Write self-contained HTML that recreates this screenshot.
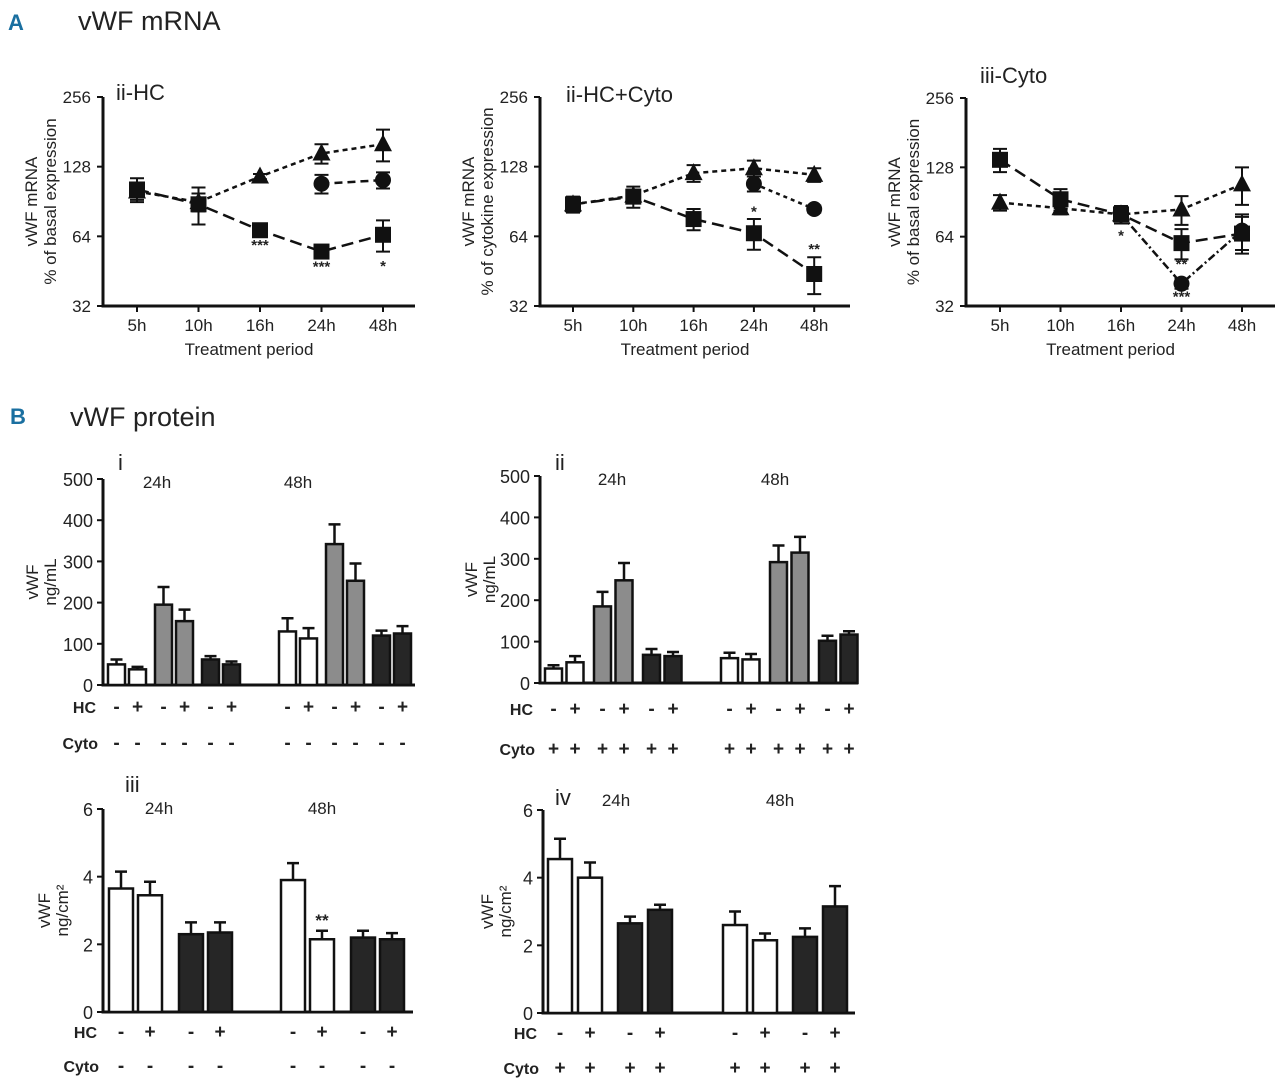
<!DOCTYPE html>
<html><head><meta charset="utf-8">
<style>
body{margin:0;background:#fff;}
svg{display:block;font-family:"Liberation Sans Narrow","Liberation Sans",sans-serif;}
</style></head>
<body>
<svg id="fig" width="1280" height="1087" viewBox="0 0 1280 1087">
<text x="8" y="30" font-size="22" font-weight="bold" fill="#1a6fa0">A</text>
<text x="78" y="30" font-size="27" fill="#222">vWF mRNA</text>
<text x="10" y="424" font-size="22" font-weight="bold" fill="#1a6fa0">B</text>
<text x="70" y="426" font-size="27" fill="#222">vWF protein</text>
</svg>
<script>
// ---------- Panel A data ----------
const timeCats = ['5h','10h','16h','24h','48h'];
const logTicks = [32,64,128,256];
// A-i (HC)
const aiSquare = [102,88,68,55,65];
const aiSquareErr = [12,16,3,3,10];
const aiTriangle = [100,90,116,146,160];
const aiTriangleErr = [8,8,3,14,25];
const aiCircle = [null,null,null,108,112];
const aiCircleErr = [0,0,0,10,9];
const aiStars = ['','','***','***','*'];
// A-ii (HC+Cyto)
const aiiSquare = [88,95,76,66,44];
const aiiSquareErr = [7,10,8,10,8];
const aiiTriangle = [88,96,120,126,118];
const aiiTriangleErr = [5,6,10,10,8];
const aiiCircle = [null,null,null,108,84];
const aiiCircleErr = [0,0,0,8,3];
const aiiStars = ['','','','*','**'];
// A-iii (Cyto)
const aiiiSquare = [138,93,80,60,66];
const aiiiSquareErr = [16,10,7,9,12];
const aiiiTriangle = [90,85,80,84,108];
const aiiiTriangleErr = [7,5,4,12,20];
const aiiiCircle = [null,null,80,40,68];
const aiiiCircleErr = [0,0,0,2,12];
const aiiiStars = ['','','*','**',''];
const aiiiCircleStars = ['','','','***',''];

// ---------- Panel B data ----------
const biValues = [50,38,195,155,62,50,130,113,342,253,120,125];
const biErrors = [12,6,43,28,8,7,32,25,48,42,12,18];
const biTicks = [0,100,200,300,400,500];
const biiValues = [35,50,185,248,68,65,60,57,292,315,102,117];
const biiErrors = [8,15,35,42,14,10,13,13,40,38,12,8];
const biiiValues = [3.65,3.45,2.3,2.35,3.9,2.15,2.2,2.15];
const biiiErrors = [0.5,0.4,0.35,0.3,0.5,0.25,0.2,0.18];
const bivValues = [4.55,4.0,2.65,3.05,2.6,2.15,2.25,3.15];
const bivErrors = [0.6,0.45,0.2,0.15,0.4,0.2,0.25,0.6];
const smallTicks = [0,2,4,6];
const hcSigns6 = ['-','+','-','+','-','+','-','+','-','+','-','+'];
const hcSigns4 = ['-','+','-','+','-','+','-','+'];

const NS='http://www.w3.org/2000/svg';
const svg=document.getElementById('fig');
function el(tag,attrs,parent){const e=document.createElementNS(NS,tag);for(const k in attrs)e.setAttribute(k,attrs[k]);(parent||svg).appendChild(e);return e;}
function txt(x,y,s,size,extra,parent){const t=el('text',Object.assign({x:x,y:y,'font-size':size,fill:'#222'},extra||{}),parent);t.textContent=s;return t;}

function linePanel(p){
  const g=el('g',{});
  
  
  const yS=v=>p.yBot-(Math.log2(v/32)/3)*(p.yBot-p.yTop);
  const xS=i=>p.x0+p.off+i*p.step;
  const ax=el('path',{d:`M${p.x0},${p.yTop} V${p.yBot} H${p.x1}`,stroke:'#111','stroke-width':3,fill:'none'},g);
  
  
  logTicks.forEach(v=>{
    const y=yS(v);
    el('line',{x1:p.x0-6,x2:p.x0,y1:y,y2:y,stroke:'#111','stroke-width':2},g);
    const t=txt(p.x0-12,y+6,String(v),17,{'text-anchor':'end'},g);
    
    
  });
  timeCats.forEach((c,i)=>{
    const x=xS(i);
    el('line',{x1:x,x2:x,y1:p.yBot,y2:p.yBot+6,stroke:'#111','stroke-width':2},g);
    const t=txt(x,p.yBot+25,c,17,{'text-anchor':'middle'},g);
    
    
  });
  const xt=txt((p.x0+p.x1)/2-10,p.yBot+49,'Treatment period',17,{'text-anchor':'middle'},g);
  
  
  const cy=(p.yTop+p.yBot)/2;
  const yt=el('text',{transform:`translate(${p.x0-66},${cy}) rotate(-90)`,'font-size':17,fill:'#222','text-anchor':'middle'},g);
  
  
  const t1=el('tspan',{x:0,y:0},yt);t1.textContent='vWF mRNA';
  const t2=el('tspan',{x:0,y:19},yt);t2.textContent=p.ytitle;
  const pt=txt(p.tx,p.ty,p.title,22,{},g);
  
  
  const series=[
    {v:p.tri,e:p.triE,dash:'5 4',shape:'tri',name:'triangle-series'},
    {v:p.circ,e:p.circE,dash:p.circDash,shape:'circ',name:'circle-series'},
    {v:p.sq,e:p.sqE,dash:'12 6',shape:'sq',name:'square-series'}];
  series.forEach(s=>{
    const sg=el('g',{},g);
    
    
    let d='';
    s.v.forEach((v,i)=>{if(v==null)return;d+=(d?'L':'M')+xS(i)+','+yS(v);});
    el('path',{d:d,stroke:'#111','stroke-width':2.5,fill:'none','stroke-dasharray':s.dash},sg);
    s.v.forEach((v,i)=>{
      if(v==null)return;
      const x=xS(i),y=yS(v),er=s.e[i];
      if(er>0){
        const yh=yS(v+er),yl=yS(Math.max(v-er,33));
        el('path',{d:`M${x},${yh}V${yl}M${x-7},${yh}H${x+7}M${x-7},${yl}H${x+7}`,stroke:'#111','stroke-width':2,fill:'none'},sg);
      }
      let m;
      if(s.shape==='sq')m=el('rect',{x:x-8,y:y-8,width:16,height:16,fill:'#111'},sg);
      else if(s.shape==='tri')m=el('polygon',{points:`${x},${y-10} ${x-9},${y+7} ${x+9},${y+7}`,fill:'#111'},sg);
      else m=el('circle',{cx:x,cy:y,r:8,fill:'#111'},sg);
      
      
    });
  });
  const starSets=[[p.stars,p.starSeries,p.starOff]];
  if(p.stars2)starSets.push([p.stars2,p.starSeries2,p.starOff2]);
  starSets.forEach(([arr,ser,off])=>{
    arr.forEach((s,i)=>{
      if(!s)return;
      const st=txt(xS(i),yS(ser[i])+off[i],s,15,{'text-anchor':'middle','font-weight':'bold'},g);
      
      
    });
  });
}

linePanel({name:'chart-a-i-hc',x0:103,x1:415,yTop:97,yBot:306,off:34,step:61.5,title:'ii-HC',tx:116,ty:100,
  ytitle:'% of basal expression',sq:aiSquare,sqE:aiSquareErr,tri:aiTriangle,triE:aiTriangleErr,circ:aiCircle,circE:aiCircleErr,
  circDash:'8 5',stars:aiStars,starSeries:aiSquare,starOff:[0,0,20,20,36]});
linePanel({name:'chart-a-ii-hc-cyto',x0:540,x1:850,yTop:97,yBot:306,off:33,step:60.3,title:'ii-HC+Cyto',tx:566,ty:102,
  ytitle:'% of cytokine expression',sq:aiiSquare,sqE:aiiSquareErr,tri:aiiTriangle,triE:aiiTriangleErr,circ:aiiCircle,circE:aiiCircleErr,
  circDash:'4 4',stars:aiiStars,starSeries:aiiCircle.map((c,i)=>i===4?aiiSquare[i]:(c||1)),starOff:[0,0,0,33,-20]});
linePanel({name:'chart-a-iii-cyto',x0:966,x1:1275,yTop:98,yBot:306,off:34,step:60.5,title:'iii-Cyto',tx:980,ty:83,
  ytitle:'% of basal expression',sq:aiiiSquare,sqE:aiiiSquareErr,tri:aiiiTriangle,triE:aiiiTriangleErr,circ:aiiiCircle,circE:aiiiCircleErr,
  circDash:'8 3 2 3',stars:aiiiStars,starSeries:aiiiSquare,starOff:[0,0,26,26,0],
  stars2:aiiiCircleStars,starSeries2:aiiiCircle.map(c=>c||1),starOff2:[0,0,0,18,0]});

function barPanel(p){
  const g=el('g',{});
  
  
  const yS=v=>p.yBot-(v/p.max)*(p.yBot-p.yTop);
  const ax=el('path',{d:`M${p.x0},${p.yTop} V${p.yBot} H${p.x1}`,stroke:'#111','stroke-width':3,fill:'none'},g);
  
  
  p.ticks.forEach(v=>{
    const y=yS(v);
    el('line',{x1:p.x0-6,x2:p.x0,y1:y,y2:y,stroke:'#111','stroke-width':2},g);
    const t=txt(p.x0-10,y+7,String(v),18,{'text-anchor':'end'},g);
    
    
  });
  const cy=(p.yTop+p.yBot)/2;
  const yt=el('text',{transform:`translate(${p.tX},${cy}) rotate(-90)`,'font-size':17,fill:'#222','text-anchor':'middle'},g);
  
  
  const a=el('tspan',{x:0,y:0},yt);a.textContent='vWF';
  const b=el('tspan',{x:0,y:18},yt);b.textContent=p.unit;
  const pl=txt(p.lx,p.ly,p.label,22,{},g);
  
  
  p.times.forEach((s,i)=>{const t=txt(p.timeX[i],p.timeY,s,17,{'text-anchor':'middle'},g);
    });
  p.values.forEach((v,i)=>{
    const x=p.start+i*p.step+Math.floor(i/p.perGroup)*p.gap+Math.floor(i/(p.perGroup*p.groupsPerTime))*p.timeGap;
    const y=yS(v),ye=yS(v+p.errors[i]);
    el('path',{d:`M${x+p.w/2},${y}V${ye}M${x+p.w/2-6},${ye}H${x+p.w/2+6}`,stroke:'#111','stroke-width':2.5,fill:'none'},g);
    const r=el('rect',{x:x,y:y,width:p.w,height:p.yBot-y,fill:p.colors[Math.floor(i/p.perGroup)%p.groupsPerTime],stroke:'#111','stroke-width':2.5},g);
    
    
    const h=txt(x+p.w/2,p.hcY,p.hc[i],19,{'text-anchor':'middle','font-weight':'bold','font-family':'Liberation Sans'},g);
    
    const c=txt(x+p.w/2,p.cyY,p.cyto,19,{'text-anchor':'middle','font-weight':'bold','font-family':'Liberation Sans'},g);
    
    if(p.stars&&p.stars[i]){const s=txt(x+p.w/2,ye-5,p.stars[i],17,{'text-anchor':'middle','font-weight':'bold'},g);
      }
  });
  const hl=txt(p.rowX,p.hcY,'HC',16,{'font-weight':'bold','text-anchor':'end','font-family':'Liberation Sans'},g);
  
  const cl=txt(p.rowX+2,p.cyY,'Cyto',16,{'font-weight':'bold','text-anchor':'end','font-family':'Liberation Sans'},g);
  
}
const three=['#fff','#8c8c8c','#262626'];
const two=['#fff','#262626'];
barPanel({name:'chart-b-i',x0:103,x1:415,yTop:479,yBot:685,max:500,ticks:biTicks,values:biValues,errors:biErrors,
  start:108,step:21,gap:5,timeGap:30,perGroup:2,groupsPerTime:3,w:17,colors:three,hc:hcSigns6,cyto:'-',
  hcY:713,cyY:749,rowX:96,tX:38,unit:'ng/mL',label:'i',lx:118,ly:470,times:['24h','48h'],timeX:[157,298],timeY:488});
barPanel({name:'chart-b-ii',x0:540,x1:858,yTop:476,yBot:683,max:500,ticks:biTicks,values:biiValues,errors:biiErrors,
  start:545,step:21.5,gap:6,timeGap:29,perGroup:2,groupsPerTime:3,w:17,colors:three,hc:hcSigns6,cyto:'+',
  hcY:715,cyY:755,rowX:533,tX:477,unit:'ng/mL',label:'ii',lx:555,ly:470,times:['24h','48h'],timeX:[612,775],timeY:485});
barPanel({name:'chart-b-iii',x0:103,x1:413,yTop:809,yBot:1012,max:6,ticks:smallTicks,values:biiiValues,errors:biiiErrors,
  start:109,step:29,gap:12,timeGap:32,perGroup:2,groupsPerTime:2,w:24,colors:two,hc:hcSigns4,cyto:'-',stars:['','','','','','**','',''],
  hcY:1038,cyY:1072,rowX:97,tX:50,unit:'ng/cm²',label:'iii',lx:125,ly:792,times:['24h','48h'],timeX:[159,322],timeY:814});
barPanel({name:'chart-b-iv',x0:543,x1:855,yTop:810,yBot:1013,max:6,ticks:smallTicks,values:bivValues,errors:bivErrors,
  start:548,step:30,gap:10,timeGap:35,perGroup:2,groupsPerTime:2,w:24,colors:two,hc:hcSigns4,cyto:'+',
  hcY:1039,cyY:1074,rowX:537,tX:493,unit:'ng/cm²',label:'iv',lx:555,ly:805,times:['24h','48h'],timeX:[616,780],timeY:806});
</script>
</body></html>
